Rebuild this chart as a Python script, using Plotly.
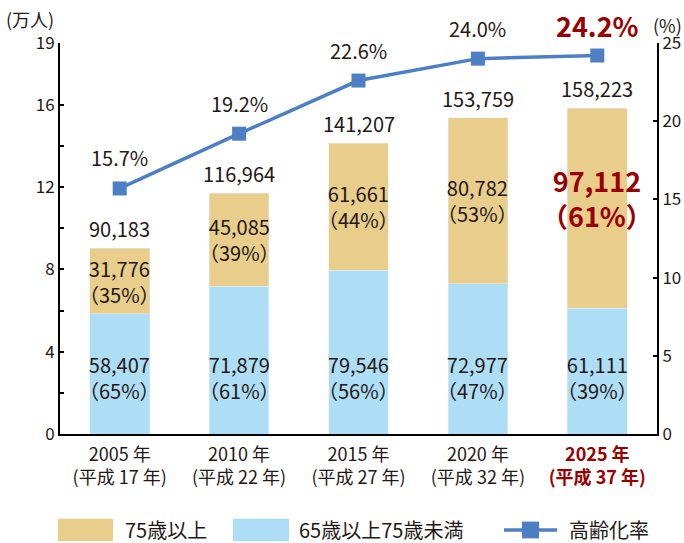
import plotly.graph_objects as go

years = ["2005", "2010", "2015", "2020", "2025"]
heisei = ["17", "22", "27", "32", "37"]
age_65_74 = [58407, 71879, 79546, 72977, 61111]
age_75_plus = [31776, 45085, 61661, 80782, 97112]
totals = [90183, 116964, 141207, 153759, 158223]
share_65_74 = [65, 61, 56, 47, 39]
share_75_plus = [35, 39, 44, 53, 61]
aging_rate = [15.7, 19.2, 22.6, 24.0, 24.2]
left_ticks = [0, 2, 4, 6, 8, 10, 12, 14, 16, 19]
left_labels = ["0", "", "4", "", "8", "", "12", "", "16", "19"]
right_ticks = [0, 5, 10, 15, 20, 25]

FONT = "Noto Sans CJK JP"
TXT = "#231815"
RED = "#990000"
TAN = "#E9CD8B"
BLUE = "#AEDEF5"
LINE = "#4C7FC6"

xs = list(range(len(years)))
y1 = [v / 10000 for v in age_65_74]
y2 = [v / 10000 for v in age_75_plus]

fig = go.Figure()
fig.add_trace(go.Bar(x=xs, y=y1, marker_color=BLUE, name="65歳以上75歳未満", showlegend=False))
fig.add_trace(go.Bar(x=xs, y=y2, marker_color=TAN, name="75歳以上", showlegend=False))
fig.add_trace(go.Scatter(x=xs, y=aging_rate, yaxis="y2", mode="lines+markers",
                         line=dict(color=LINE, width=3.5),
                         marker=dict(symbol="square", size=14, color=LINE),
                         name="高齢化率", showlegend=False))

ann = []
last = len(years) - 1
for i in xs:
    # lower segment labels
    ann.append(dict(x=i, y=2.75, xref="x", yref="y", showarrow=False,
                    text=f"{age_65_74[i]:,}<br>（{share_65_74[i]}%）",
                    font=dict(family=FONT, size=20, color=TXT)))
    # upper segment labels
    mid = y1[i] + y2[i] / 2
    if i == last:
        ann.append(dict(x=i, y=mid + 0.5, xref="x", yref="y", showarrow=False,
                        text=f"<b>{age_75_plus[i]:,}<br>（{share_75_plus[i]}%）</b>",
                        font=dict(family=FONT, size=27, color=RED)))
    else:
        ann.append(dict(x=i, y=mid, xref="x", yref="y", showarrow=False,
                        text=f"{age_75_plus[i]:,}<br>（{share_75_plus[i]}%）",
                        font=dict(family=FONT, size=20, color=TXT)))
    # totals
    ann.append(dict(x=i, y=totals[i] / 10000, xref="x", yref="y", showarrow=False,
                    yanchor="bottom", yshift=3, text=f"{totals[i]:,}",
                    font=dict(family=FONT, size=20, color=TXT)))
    # rate labels
    if i == last:
        ann.append(dict(x=i, y=aging_rate[i], xref="x", yref="y2", showarrow=False,
                        yanchor="bottom", yshift=9, text=f"<b>{aging_rate[i]:.1f}%</b>",
                        font=dict(family=FONT, size=27, color=RED)))
    else:
        ann.append(dict(x=i, y=aging_rate[i], xref="x", yref="y2", showarrow=False,
                        yanchor="bottom", yshift=14, text=f"{aging_rate[i]:.1f}%",
                        font=dict(family=FONT, size=20, color=TXT)))

ticktext = []
for i, yr in enumerate(years):
    t = f"{yr} 年<br>(平成 {heisei[i]} 年)"
    if i == last:
        t = f"<span style='color:{RED}'><b>{yr} 年<br>(平成 {heisei[i]} 年)</b></span>"
    ticktext.append(t)

# axis unit labels
ann.append(dict(x=-0.05, y=1.062, xref="paper", yref="paper", showarrow=False,
                xanchor="center", yanchor="middle",
                text="(万人)", font=dict(family=FONT, size=18, color=TXT)))
ann.append(dict(x=1.045, y=1.046, xref="paper", yref="paper", showarrow=False,
                xanchor="right", yanchor="middle",
                text="(%)", font=dict(family=FONT, size=18, color=TXT)))

# custom legend
shapes = []
ly0, ly1 = -0.217, -0.274
lyc = -0.2455
shapes.append(dict(type="rect", xref="paper", yref="paper", x0=-0.0034, x1=0.0888,
                   y0=ly0, y1=ly1, fillcolor=TAN, line=dict(width=0)))
shapes.append(dict(type="rect", xref="paper", yref="paper", x0=0.2898, x1=0.3836,
                   y0=ly0, y1=ly1, fillcolor=BLUE, line=dict(width=0)))
shapes.append(dict(type="line", xref="paper", yref="paper", x0=0.7437, x1=0.8325,
                   y0=lyc, y1=lyc, line=dict(color=LINE, width=3.5)))
shapes.append(dict(type="rect", xref="paper", yref="paper", x0=0.7739, x1=0.8023,
                   y0=lyc - 0.0215, y1=lyc + 0.0215, fillcolor=LINE, line=dict(width=0)))
for xx, t in [(0.1055, "75歳以上"), (0.397, "65歳以上75歳未満"), (0.849, "高齢化率")]:
    ann.append(dict(x=xx, y=lyc, xref="paper", yref="paper", showarrow=False,
                    xanchor="left", yanchor="middle", text=t,
                    font=dict(family=FONT, size=20, color=TXT)))

fig.update_layout(
    width=684, height=543,
    margin=dict(l=60, r=27, t=43, b=109, autoexpand=False),
    barmode="stack", bargap=0.5,
    plot_bgcolor="white", paper_bgcolor="white",
    showlegend=False,
    font=dict(family=FONT, color=TXT),
    annotations=ann, shapes=shapes,
    xaxis=dict(range=[-0.5, len(years) - 0.5], tickvals=xs, ticktext=ticktext,
               showline=True, linecolor="black", linewidth=2, ticks="",
               tickfont=dict(family=FONT, size=18, color=TXT), ticklabelstandoff=3,
               showgrid=False, zeroline=False, tickangle=0),
    yaxis=dict(range=[0, 19], tickvals=left_ticks, ticktext=left_labels, showline=True,
               linecolor="black", linewidth=2, ticks="inside", ticklen=4, tickwidth=2,
               tickcolor="black", showgrid=False, zeroline=False,
               tickfont=dict(family=FONT, size=17, color=TXT)),
    yaxis2=dict(range=[0, 25], tickvals=right_ticks, overlaying="y", side="right",
                anchor="x", showline=True, linecolor="black", linewidth=2, ticks="inside",
                ticklen=4, tickwidth=2, tickcolor="black", showgrid=False, zeroline=False,
                tickfont=dict(family=FONT, size=17, color=TXT)),
)

fig.write_html("out.html")
